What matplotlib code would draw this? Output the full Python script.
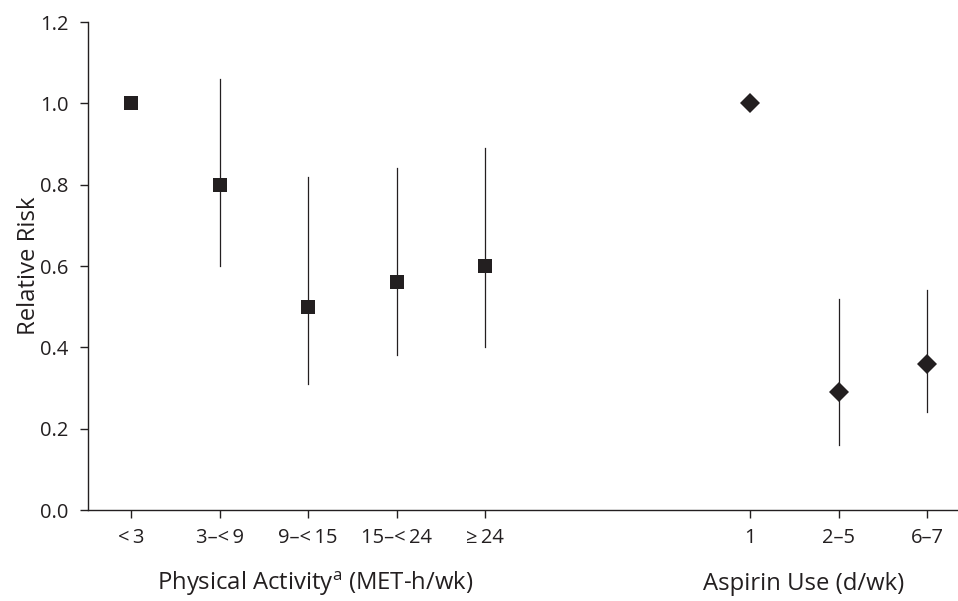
import matplotlib
matplotlib.use("Agg")
import matplotlib.pyplot as plt
import matplotlib.transforms as mtransforms

plt.rcParams['font.family'] = ['Open Sans', 'DejaVu Sans']
plt.rcParams['mathtext.default'] = 'regular'

# Data
pa_labels = ["<\u20093", "3\u2013<\u20099", "9\u2013<\u200915", "15\u2013<\u200924", "\u2265\u200924"]
pa_rr = [1.00, 0.80, 0.50, 0.56, 0.60]
pa_lo = [1.00, 0.60, 0.31, 0.38, 0.40]
pa_hi = [1.00, 1.06, 0.82, 0.84, 0.89]

asp_labels = ["1", "2\u20135", "6\u20137"]
asp_rr = [1.00, 0.29, 0.36]
asp_lo = [1.00, 0.16, 0.24]
asp_hi = [1.00, 0.52, 0.54]

yticks = [0.0, 0.2, 0.4, 0.6, 0.8, 1.0, 1.2]

# positions (layout)
pa_x = list(range(len(pa_labels)))
asp_x = [7 + i for i in range(len(asp_labels))]

ink = "#231f20"

fig = plt.figure(figsize=(9.58, 6.01), dpi=100)
ax = fig.add_axes([88/958, 1 - 510/601, 1 - 88/958, (510 - 22)/601])

def draw(xs, rr, lo, hi, marker, ms):
    for x, r, l, h in zip(xs, rr, lo, hi):
        if h > l:
            ax.plot([x, x], [l, h], color=ink, lw=0.9, zorder=2)
    ax.plot(xs, rr, linestyle='none', marker=marker, ms=ms, color=ink,
            markeredgewidth=0, zorder=3)

draw(pa_x, pa_rr, pa_lo, pa_hi, 's', 9.5)
draw(asp_x, asp_rr, asp_lo, asp_hi, 'D', 10.3)

ax.set_xlim(-0.49, 9.35)
ax.set_ylim(0, 1.2)
ax.set_yticks(yticks)
ax.set_yticklabels([f"{v:.1f}" for v in yticks])
ax.set_xticks(pa_x + asp_x)
ax.set_xticklabels(pa_labels + asp_labels)

for s in ['top', 'right']:
    ax.spines[s].set_visible(False)
for s in ['left', 'bottom']:
    ax.spines[s].set_color(ink)
    ax.spines[s].set_linewidth(1.0)

ax.tick_params(axis='both', colors=ink, labelcolor=ink, labelsize=14.5,
               width=1.0, length=6, direction='out')
ax.tick_params(axis='x', pad=7)
ax.tick_params(axis='y', pad=8)

ax.set_ylabel("Relative Risk", fontsize=17.2, color=ink)
ax.yaxis.set_label_coords(-0.054, 0.5)

trans = mtransforms.blended_transform_factory(ax.transData, ax.transAxes)
ax.text(2.08, -0.152, "Physical Activity$^{a}$ (MET-h/wk)", transform=trans,
        ha='center', va='center', fontsize=17.2, color=ink)
ax.text(7.6, -0.152, "Aspirin Use (d/wk)", transform=trans,
        ha='center', va='center', fontsize=17.2, color=ink)

fig.savefig("out.png", dpi=100)
